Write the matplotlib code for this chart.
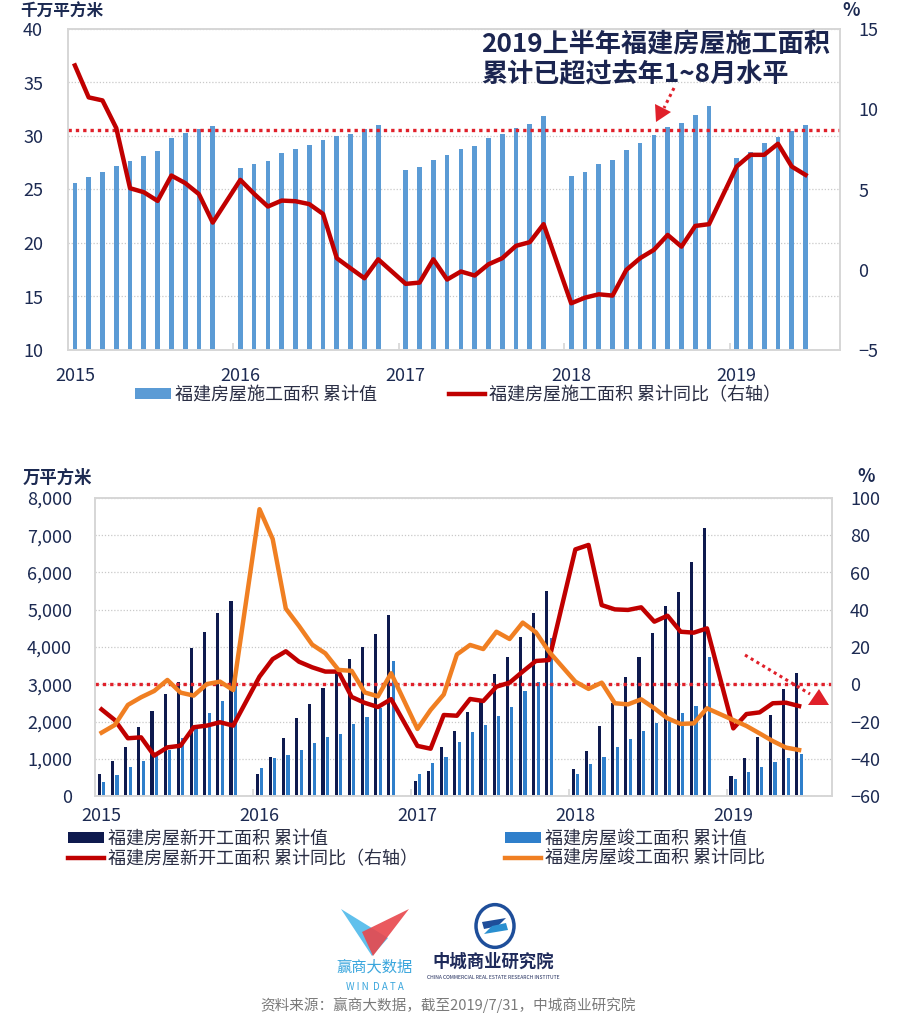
import matplotlib
matplotlib.use('Agg')
import matplotlib.pyplot as plt
import numpy as np
from matplotlib.lines import Line2D
from matplotlib.patches import Patch, Polygon, Circle
from matplotlib.ticker import FuncFormatter

plt.rcParams['font.family'] = ['Noto Sans CJK SC', 'DejaVu Sans']

# ---------------- data ----------------
years = [2015] * 11 + [2016] * 11 + [2017] * 11 + [2018] * 11 + [2019] * 6
months = list(range(2, 13)) * 4 + list(range(2, 8))

# 福建房屋施工面积 累计值 (千万平方米)
construction = [25.65, 26.15, 26.6, 27.2, 27.65, 28.15, 28.6, 29.8, 30.25, 30.7, 30.9,
                27.0, 27.35, 27.65, 28.4, 28.8, 29.2, 29.6, 30.0, 30.2, 30.65, 31.05,
                26.8, 27.1, 27.8, 28.2, 28.77, 29.1, 29.8, 30.2, 30.75, 31.15, 31.9,
                26.3, 26.6, 27.35, 27.75, 28.7, 29.35, 30.1, 30.8, 31.2, 32.0, 32.8,
                27.9, 28.5, 29.3, 29.9, 30.5, 31.05]
# 福建房屋施工面积 累计同比 (%)
construction_yoy = [12.73, 10.74, 10.55, 8.83, 5.08, 4.83, 4.29, 5.87, 5.40, 4.71, 2.94,
                    5.60, 4.73, 3.94, 4.31, 4.27, 4.09, 3.48, 0.72, 0.09, -0.53, 0.65,
                    -0.88, -0.80, 0.65, -0.61, -0.11, -0.36, 0.34, 0.72, 1.49, 1.72, 2.84,
                    -2.09, -1.74, -1.53, -1.61, -0.01, 0.72, 1.24, 2.17, 1.44, 2.73, 2.84,
                    6.43, 7.16, 7.16, 7.85, 6.43, 5.91]
construction_ref = 30.6

# 福建房屋新开工面积 累计值 (万平方米)
new_start = [580, 940, 1324, 1843, 2273, 2729, 3069, 3982, 4412, 4913, 5235,
             591, 1056, 1566, 2085, 2470, 2908, 3293, 3678, 4009, 4340, 4868,
             403, 680, 1306, 1740, 2264, 2532, 3275, 3723, 4277, 4904, 5512,
             716, 1217, 1879, 2488, 3186, 3723, 4385, 5110, 5485, 6291, 7195,
             537, 1011, 1575, 2166, 2873, 3311]
# 福建房屋竣工面积 累计值 (万平方米)
completion = [385, 564, 787, 940, 1080, 1235, 1548, 1790, 2219, 2560, 3400,
              760, 1011, 1100, 1235, 1414, 1593, 1664, 1924, 2112, 2353, 3633,
              582, 877, 1038, 1441, 1709, 1897, 2148, 2380, 2810, 3051, 4251,
              582, 850, 1056, 1306, 1539, 1736, 1951, 2058, 2219, 2416, 3723,
              465, 653, 787, 922, 1011, 1119]
# 福建房屋新开工面积 累计同比 (%)
new_start_yoy = [-13.5, -19.2, -29.0, -28.5, -38.3, -33.9, -33.0, -23.1, -22.2, -20.4, -22.2,
                 4.1, 13.5, 17.7, 12.1, 9.1, 6.8, 6.8, -6.8, -10.0, -12.2, -8.0,
                 -33.1, -34.6, -16.5, -16.9, -7.9, -9.0, -1.3, 0.85, 6.8, 12.5, 13.0,
                 72.4, 74.8, 42.5, 40.2, 39.9, 41.3, 33.6, 36.8, 28.2, 27.7, 30.0,
                 -23.7, -16.0, -15.1, -10.2, -9.9, -11.7]
# 福建房屋竣工面积 累计同比 (%)
completion_yoy = [-26.0, -21.9, -11.1, -7.0, -3.6, 2.3, -4.5, -6.1, 0.1, 1.4, -3.1,
                  94.0, 78.0, 40.6, 31.3, 21.3, 16.6, 7.7, 7.2, -4.4, -6.5, 5.9,
                  -24.0, -13.8, -5.5, 16.0, 21.1, 18.9, 28.2, 24.3, 33.1, 27.9, 17.5,
                  1.4, -2.5, 0.85, -10.2, -10.8, -8.1, -12.9, -18.3, -21.3, -21.0, -12.9,
                  -19.2, -22.4, -26.4, -30.5, -34.0, -35.3]
bottom_ref = 3000

# ---------------- helpers ----------------
W, H = 908, 1021


def fx(x):
    return x / W


def fy(y):
    return 1 - y / H


x = np.array([(y - 2015) * 12 + (m - 1) for y, m in zip(years, months)], dtype=float)
year_ticks = [xi for xi, m in zip(x, months) if m == 2]
year_labels = [str(y) for y, m in zip(years, months) if m == 2]
year_bounds = [t - 0.5 for t in year_ticks[1:]]

NAVY = '#1C2A52'
GRID = '#C9C9C9'
SPINE = '#D6D6D6'
RED = '#C00000'
REF = '#E0202A'
LEG = '#2B2F45'

fig = plt.figure(figsize=(W / 100, H / 100), dpi=100)


def style_axes(ax, axr):
    for a in (ax, axr):
        for s in a.spines.values():
            s.set_color(SPINE)
            s.set_linewidth(1.2)
    ax.set_xlim(0.5, 56.5)
    ax.set_xticks(year_ticks)
    ax.set_xticklabels(year_labels)
    ax.set_xticks(year_bounds, minor=True)
    ax.tick_params(axis='x', which='major', length=0, labelsize=13, labelcolor=NAVY)
    ax.tick_params(axis='x', which='minor', length=5, direction='in', color=SPINE, width=1.2)
    ax.tick_params(axis='y', length=0, labelsize=13, labelcolor=NAVY)
    axr.tick_params(axis='y', length=0, labelsize=13, labelcolor=NAVY)
    ax.yaxis.grid(True, color=GRID, linestyle=(0, (1, 1.5)), linewidth=0.9)
    ax.set_axisbelow(True)


# ---------------- top chart ----------------
ax1 = fig.add_axes([fx(68), fy(350), fx(840) - fx(68), (350 - 29) / H])
ax1r = ax1.twinx()
ax1.bar(x, construction, width=0.34, color='#5B9BD5', zorder=2)
ax1.axhline(construction_ref, color=REF, linestyle=(0, (1, 1.2)), linewidth=2.4, zorder=3)
ax1r.plot(x, construction_yoy, color=RED, linewidth=3.2, solid_joinstyle='round')
ax1.set_ylim(10, 40)
ax1.set_yticks(np.arange(10, 41, 5))
ax1r.set_ylim(-5, 15)
ax1r.set_yticks(np.arange(-5, 16, 5))
style_axes(ax1, ax1r)
ax1.tick_params(axis='y', pad=18)
ax1r.tick_params(axis='y', pad=13)
ax1.tick_params(axis='x', pad=12)

fig.text(fx(20), fy(12), '千万平方米', fontsize=12, fontweight='bold', color=NAVY, va='center')
fig.text(fx(851), fy(11), '%', fontsize=13, fontweight='bold', color=NAVY, va='center', ha='center')

fig.text(fx(481), fy(44), '2019上半年福建房屋施工面积', fontsize=18.8, fontweight='bold',
         color='#1B2550', va='center', ha='left')
fig.text(fx(481), fy(75), '累计已超过去年1~8月水平', fontsize=18.8, fontweight='bold',
         color='#1B2550', va='center', ha='left')
fig.add_artist(Line2D([fx(674), fx(664)], [fy(88), fy(108)], transform=fig.transFigure,
                      color=REF, linewidth=2.2, linestyle=(0, (1, 1.2))))
fig.add_artist(Polygon([(fx(655), fy(104)), (fx(671), fy(112)), (fx(656), fy(122))],
                       closed=True, transform=fig.transFigure, color=REF, linewidth=0))

h_top = [Patch(facecolor='#5B9BD5', edgecolor='none'),
         Line2D([], [], color=RED, linewidth=3.2)]
fig.legend(h_top, ['福建房屋施工面积 累计值', '福建房屋施工面积 累计同比（右轴）'],
           loc='upper left', bbox_to_anchor=(fx(135), fy(386)), ncol=2, frameon=False,
           fontsize=13, handlelength=2.0, handleheight=0.6, handletextpad=0.2,
           columnspacing=4.0, borderpad=0, borderaxespad=0, labelcolor=LEG)

# ---------------- bottom chart ----------------
ax2 = fig.add_axes([fx(95), fy(796), fx(832) - fx(95), (796 - 498) / H])
ax2r = ax2.twinx()
ax2.bar(x - 0.17, new_start, width=0.24, color='#0E1A4E', zorder=2)
ax2.bar(x + 0.17, completion, width=0.24, color='#2F7FCB', zorder=2)
ax2.axhline(bottom_ref, color=REF, linestyle=(0, (1, 1.2)), linewidth=2.4, zorder=3)
ax2r.plot(x, new_start_yoy, color=RED, linewidth=3.2, solid_joinstyle='round')
ax2r.plot(x, completion_yoy, color='#F07F22', linewidth=3.2, solid_joinstyle='round')
ax2.set_ylim(0, 8000)
ax2.set_yticks(np.arange(0, 8001, 1000))
ax2.yaxis.set_major_formatter(FuncFormatter(lambda v, p: f'{int(v):,}'))
ax2r.set_ylim(-60, 100)
ax2r.set_yticks(np.arange(-60, 101, 20))
style_axes(ax2, ax2r)
ax2.tick_params(axis='y', pad=16.5)
ax2r.tick_params(axis='y', pad=13)
ax2.tick_params(axis='x', pad=8)

fig.text(fx(23), fy(478), '万平方米', fontsize=12.5, fontweight='bold', color=NAVY, va='center')
fig.text(fx(866), fy(477), '%', fontsize=13, fontweight='bold', color=NAVY, va='center', ha='center')

fig.add_artist(Line2D([fx(745), fx(810)], [fy(655), fy(694)], transform=fig.transFigure,
                      color=REF, linewidth=2.2, linestyle=(0, (1, 1.2))))
fig.add_artist(Polygon([(fx(808), fy(705)), (fx(829), fy(705)), (fx(819), fy(689))],
                       closed=True, transform=fig.transFigure, color=REF, linewidth=0))

h_bot = [Patch(facecolor='#0E1A4E', edgecolor='none'),
         Line2D([], [], color=RED, linewidth=3.2),
         Patch(facecolor='#2F7FCB', edgecolor='none'),
         Line2D([], [], color='#F07F22', linewidth=3.2)]
fig.legend(h_bot, ['福建房屋新开工面积 累计值', '福建房屋新开工面积 累计同比（右轴）',
                   '福建房屋竣工面积 累计值', '福建房屋竣工面积 累计同比'],
           loc='upper left', bbox_to_anchor=(fx(68), fy(830)), ncol=2, frameon=False,
           fontsize=13, handlelength=2.0, handleheight=0.6, handletextpad=0.2,
           columnspacing=4.85, labelspacing=0.1, borderpad=0, borderaxespad=0,
           labelcolor=LEG)

# ---------------- logos & source ----------------
fig.add_artist(Polygon([(fx(341), fy(909)), (fx(388), fy(938)), (fx(372), fy(956))],
                       closed=True, transform=fig.transFigure, facecolor='#57BDEB',
                       edgecolor='none', alpha=0.95))
fig.add_artist(Polygon([(fx(409), fy(909)), (fx(373), fy(956)), (fx(362), fy(932))],
                       closed=True, transform=fig.transFigure, facecolor='#E8474C',
                       edgecolor='none', alpha=0.9))
fig.text(fx(375), fy(967), '赢商大数据', fontsize=11, color='#3AA6DD', ha='center', va='center')
fig.text(fx(375), fy(987), 'W I N  D A T A', fontsize=7, color='#3AA6DD', ha='center', va='center')

fig.add_artist(Circle((fx(495), fy(926)), 19 / W, transform=fig.transFigure,
                      facecolor='none', edgecolor='#1E4E9A', linewidth=2.5))
fig.add_artist(Polygon([(fx(482), fy(922)), (fx(506), fy(918)), (fx(498), fy(926)),
                        (fx(484), fy(929))], closed=True, transform=fig.transFigure,
                       facecolor='#1E4E9A', edgecolor='none'))
fig.add_artist(Polygon([(fx(508), fy(930)), (fx(484), fy(934)), (fx(492), fy(926)),
                        (fx(506), fy(923))], closed=True, transform=fig.transFigure,
                       facecolor='#2A8FD0', edgecolor='none'))
fig.text(fx(493), fy(962), '中城商业研究院', fontsize=12.5, fontweight='bold', color='#1E2A5A',
         ha='center', va='center')
fig.text(fx(493), fy(977), 'CHINA COMMERCIAL REAL ESTATE RESEARCH INSTITUTE', fontsize=3.6,
         color='#1E2A5A', ha='center', va='center')

fig.text(fx(448), fy(1005), '资料来源：赢商大数据，截至2019/7/31，中城商业研究院', fontsize=10.5,
         color='#7A7A7A', ha='center', va='center')

fig.savefig('out.png', dpi=100, facecolor='white')
